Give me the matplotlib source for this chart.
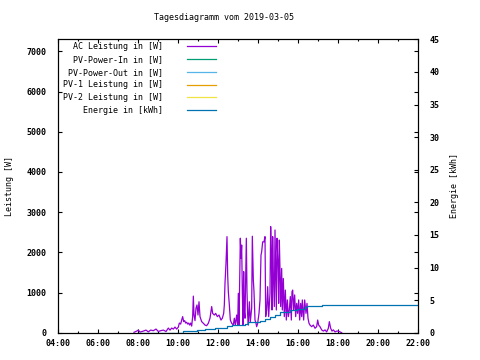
import pandas as pd
import numpy as np
import matplotlib.pyplot as plt
import matplotlib.dates as mdates

day = "2019-03-05"

# AC Leistung [W]
ac_times = ["07:48", "07:56", "08:01", "08:06", "08:16", "08:24", "08:31", "08:38", "08:46", "08:54",
            "09:01", "09:08", "09:16", "09:24", "09:31", "09:36", "09:41", "09:46", "09:51", "09:56",
            "10:01", "10:04", "10:08", "10:11", "10:14", "10:17", "10:20", "10:23", "10:26", "10:29",
            "10:32", "10:35", "10:38", "10:41", "10:44", "10:46", "10:48", "10:51", "10:54", "10:57",
            "11:00", "11:03", "11:06", "11:11", "11:16", "11:21", "11:26", "11:31", "11:36", "11:41",
            "11:44", "11:49", "11:53", "11:58", "12:03", "12:09", "12:13", "12:17", "12:19", "12:21",
            "12:24", "12:27", "12:29", "12:31", "12:34", "12:37", "12:41", "12:46", "12:49", "12:52",
            "12:56", "12:59", "13:01", "13:03", "13:07", "13:09", "13:11", "13:13", "13:15", "13:17",
            "13:19", "13:21", "13:23", "13:25", "13:27", "13:29", "13:31", "13:34", "13:37", "13:41",
            "13:43", "13:46", "13:48", "13:51", "13:54", "13:56", "13:59", "14:03", "14:06", "14:09",
            "14:11", "14:14", "14:18", "14:21", "14:23", "14:26", "14:29", "14:32", "14:36", "14:38",
            "14:40", "14:42", "14:44", "14:46", "14:49", "14:51", "14:53", "14:55", "14:57", "15:00",
            "15:02", "15:04", "15:06", "15:08", "15:11", "15:13", "15:16", "15:19", "15:22", "15:25",
            "15:28", "15:31", "15:34", "15:37", "15:40", "15:42", "15:44", "15:47", "15:50", "15:53",
            "15:56", "15:59", "16:02", "16:05", "16:08", "16:11", "16:13", "16:17", "16:20", "16:24",
            "16:27", "16:30", "16:33", "16:36", "16:41", "16:46", "16:51", "16:56", "16:59", "17:02",
            "17:06", "17:11", "17:16", "17:21", "17:26", "17:31", "17:34", "17:38", "17:42", "17:46",
            "17:51", "17:56", "18:01", "18:06", "18:11"]
ac_power = [10, 40, 65, 15, 40, 65, 20, 65, 50, 90,
            30, 50, 65, 30, 115, 65, 115, 90, 140, 90,
            140, 240, 215, 315, 400, 275, 300, 240, 260, 215,
            240, 190, 240, 165, 400, 910, 440, 300, 610, 690,
            440, 770, 400, 275, 235, 190, 175, 235, 360, 650,
            480, 440, 480, 400, 440, 315, 360, 480, 690, 1230,
            1730, 2390, 1435, 1020, 690, 315, 235, 190, 360, 190,
            440, 190, 980, 190, 2350, 1850, 2180, 1020, 190, 1520,
            520, 360, 1435, 2350, 1020, 440, 190, 770, 275, 610,
            2400, 1310, 1020, 315, 235, 150, 235, 480, 815, 1930,
            2015, 2260, 2260, 2390, 400, 565, 1145, 400, 980, 2640,
            1975, 565, 2390, 1480, 650, 2555, 1560, 565, 2350, 1730,
            730, 2305, 1560, 650, 1600, 565, 1350, 400, 1060, 315,
            815, 400, 565, 900, 315, 1020, 1060, 565, 940, 400,
            730, 480, 815, 315, 730, 400, 815, 315, 815, 480,
            730, 360, 235, 190, 150, 190, 110, 150, 315, 190,
            150, 70, 40, 70, 20, 110, 275, 110, 40, 70,
            20, 40, 40, 20, 0]

# Energie [kWh]
en_times = ["08:00", "10:16", "10:56", "11:21", "11:51", "12:26", "12:41", "13:06", "13:21", "13:31",
            "14:06", "14:21", "14:36", "14:51", "15:06", "15:36", "15:56", "16:21", "16:26", "17:11",
            "22:00"]
energy = [0, 0.26, 0.41, 0.61, 0.77, 1.03, 1.13, 1.23, 1.38, 1.6,
          1.8, 2.1, 2.45, 2.76, 3.22, 3.48, 3.68, 3.9, 4.1, 4.2,
          4.2]

# series with no data on this day
pv_in, pv_out, pv1, pv2 = [], [], [], []

t_ac = pd.to_datetime([day + " " + t for t in ac_times])
t_en = pd.to_datetime([day + " " + t for t in en_times])

plt.rcParams['font.family'] = 'DejaVu Sans Mono'
plt.rcParams['font.size'] = 6

fig = plt.figure(figsize=(4.8, 3.6), dpi=100)
ax = fig.add_axes([58/480, 1 - 332.7/360, 360/480, 293.4/360])
ax2 = ax.twinx()

ax.plot(t_ac, ac_power, color='#9400d3', lw=0.9, label="AC Leistung in [W]")
ax.plot(pv_in, pv_in, color='#009e73', lw=0.9, label="PV-Power-In in [W]")
ax.plot(pv_out, pv_out, color='#56b4e9', lw=0.9, label="PV-Power-Out in [W]")
ax.plot(pv1, pv1, color='#e69f00', lw=0.9, label="PV-1 Leistung in [W]")
ax.plot(pv2, pv2, color='#f0e442', lw=0.9, label="PV-2 Leistung in [W]")
ax2.plot(t_en, energy, color='#0072b2', lw=0.9, drawstyle='steps-post', label="Energie in [kWh]")

ax.set_xlim(pd.Timestamp(day + " 04:00"), pd.Timestamp(day + " 22:00"))
ax.set_ylim(0, 7300)
ax2.set_ylim(0, 45)
ax.set_yticks(np.arange(0, 7001, 1000))
ax2.set_yticks(np.arange(0, 46, 5))

ax.xaxis.set_major_locator(mdates.HourLocator(interval=2))
ax.xaxis.set_minor_locator(mdates.HourLocator())
ax.xaxis.set_major_formatter(mdates.DateFormatter('%H:%M'))

ax.tick_params(axis='both', which='major', direction='in', length=3, width=0.8, top=True, right=True)
ax.tick_params(axis='x', which='minor', direction='in', length=1.5, width=0.8, top=True)
ax.tick_params(axis='y', which='major', pad=8.5)
ax.tick_params(axis='x', which='major', pad=4.5)
ax2.tick_params(axis='y', direction='in', length=3, width=0.8, pad=8)
for lab in ax.get_xticklabels() + ax.get_yticklabels() + ax2.get_yticklabels():
    lab.set_fontweight('bold')

for a in (ax, ax2):
    for s in a.spines.values():
        s.set_linewidth(0.8)

ax.set_ylabel("Leistung [W]", labelpad=9)
ax2.set_ylabel("Energie [kWh]", labelpad=8)
fig.text(224/480, 1 - 17/360, "Tagesdiagramm vom 2019-03-05", ha='center', va='center')

h1, l1 = ax.get_legend_handles_labels()
h2, l2 = ax2.get_legend_handles_labels()
ax2.legend(h1 + h2, l1 + l2, loc='upper left', bbox_to_anchor=(5/360, 0.99),
           frameon=False, markerfirst=False, borderpad=0, borderaxespad=0,
           handlelength=3.4, handletextpad=2.9, labelspacing=0.45)

fig.savefig("out.png", dpi=100)
